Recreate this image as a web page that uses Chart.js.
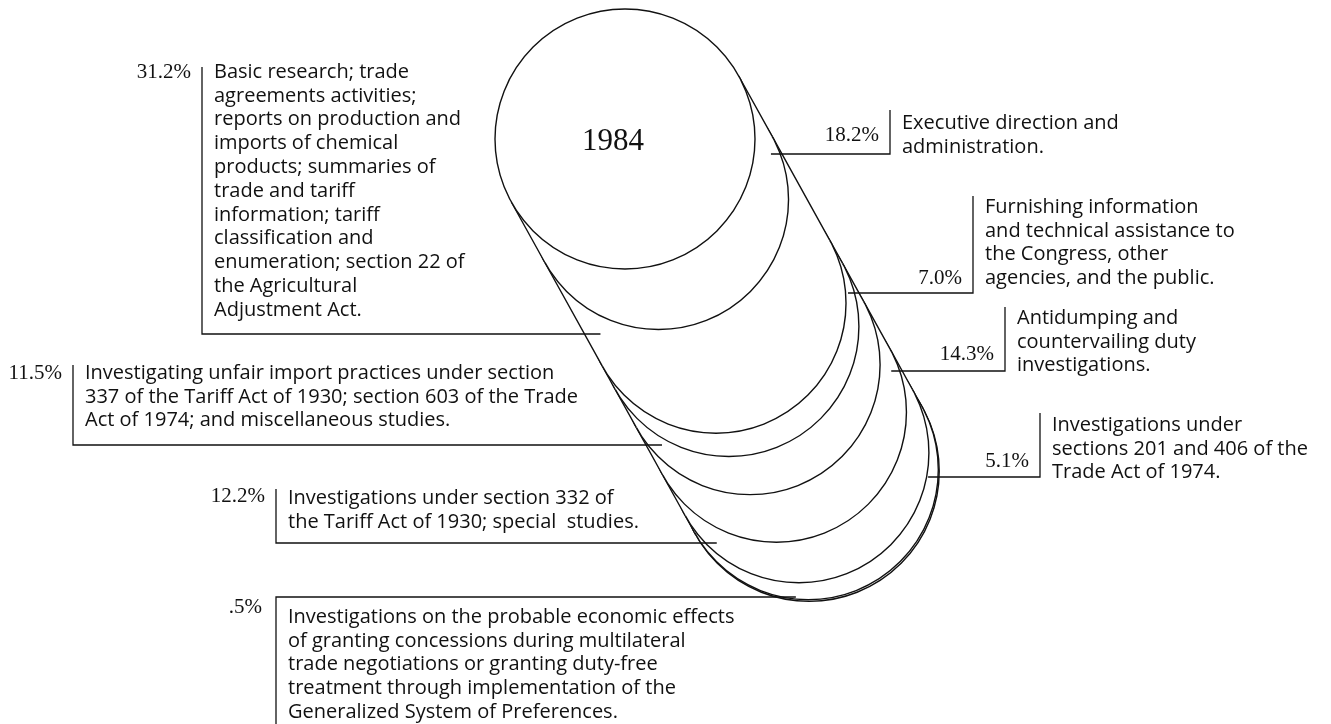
<!DOCTYPE html>
<html>
<head>
<meta charset="utf-8">
<script src="https://cdn.jsdelivr.net/npm/chart.js@4.4.1/dist/chart.umd.min.js"></script>
<style>
  html, body { margin: 0; padding: 0; background: #fff; }
  #wrap { width: 1331px; height: 724px; }
</style>
</head>
<body>
<div id="wrap"><canvas id="stackChart" width="1331" height="724"></canvas></div>
<script>
// --- data (top of the pile first) ---
const yearLabel = '1984';
const shares = [18.2, 31.2, 7.0, 11.5, 14.3, 12.2, 5.1, 0.5];
const shareLabels = ['18.2%', '31.2%', '7.0%', '11.5%', '14.3%', '12.2%', '5.1%', '.5%'];
const descriptions = [
  ['Executive direction and', 'administration.'],
  ['Basic research; trade', 'agreements activities;', 'reports on production and', 'imports of chemical',
   'products; summaries of', 'trade and tariff', 'information; tariff', 'classification and',
   'enumeration; section 22 of', 'the Agricultural', 'Adjustment Act.'],
  ['Furnishing information', 'and technical assistance to', 'the Congress, other', 'agencies, and the public.'],
  ['Investigating unfair import practices under section', '337 of the Tariff Act of 1930; section 603 of the Trade',
   'Act of 1974; and miscellaneous studies.'],
  ['Antidumping and', 'countervailing duty', 'investigations.'],
  ['Investigations under section 332 of', 'the Tariff Act of 1930; special  studies.'],
  ['Investigations under', 'sections 201 and 406 of the', 'Trade Act of 1974.'],
  ['Investigations on the probable economic effects', 'of granting concessions during multilateral',
   'trade negotiations or granting duty-free', 'treatment through implementation of the',
   'Generalized System of Preferences.']
];

// --- layout of the pile (pixel space of the hidden axes) ---
const pileTop = { x: 625, y: 139 };
const faceRadius = 130;
const pxPerPercent = 3.8;
const lean = 29 * Math.PI / 180;   // lean of the pile from vertical

// where each callout sits
const callouts = [
  { side: 'right', bracketX: 890,  bracketTop: 110, firstLine: 123, leaderY: 154, pctY: 135 },
  { side: 'left',  bracketX: 202,  bracketTop: 67,  firstLine: 72,  leaderY: 334, pctY: 72 },
  { side: 'right', bracketX: 973,  bracketTop: 196, firstLine: 207, leaderY: 293, pctY: 278 },
  { side: 'left',  bracketX: 73,   bracketTop: 365, firstLine: 373, leaderY: 445, pctY: 373 },
  { side: 'right', bracketX: 1005, bracketTop: 307, firstLine: 318, leaderY: 371, pctY: 354 },
  { side: 'left',  bracketX: 276,  bracketTop: 489, firstLine: 498, leaderY: 543, pctY: 496 },
  { side: 'right', bracketX: 1040, bracketTop: 413, firstLine: 425, leaderY: 477, pctY: 461 },
  { side: 'box',   bracketX: 276,  bracketTop: 597, firstLine: 617, leaderY: 597, pctY: 607 }
];
const lineGap = 23.8;
const ink = '#111';
const textFont = '20px "Open Sans"';
const pctFont = '21px "Liberation Serif"';

// faces of the pile: top face, then the bottom face of every slice
let cum = [0];
shares.forEach(function (s) { cum.push(cum[cum.length - 1] + s); });
const faceDatasets = cum.map(function (c, i) {
  return {
    type: 'bubble',
    data: [{
      x: pileTop.x + c * pxPerPercent * Math.sin(lean),
      y: pileTop.y + c * pxPerPercent * Math.cos(lean),
      r: faceRadius
    }],
    backgroundColor: '#fff',
    borderColor: ink,
    borderWidth: 1.4,
    clip: false,
    faceIndex: i
  };
});

function facePixels(chart) {
  return faceDatasets.map(function (d, i) {
    const el = chart.getDatasetMeta(i).data[0];
    return { x: el.x, y: el.y, r: el.options.radius };
  });
}

function sideNormal(a, b) {
  const dx = b.x - a.x, dy = b.y - a.y;
  const len = Math.hypot(dx, dy) || 1;
  return { x: dy / len, y: -dx / len };   // points to the right of the pile
}

// outer edge of the pile at height y (dir 1 = right edge, -1 = left edge)
function edgeAt(faces, y, dir) {
  let best = null;
  faces.forEach(function (c) {
    const dy = y - c.y;
    if (Math.abs(dy) < c.r) {
      const x = c.x + dir * Math.sqrt(c.r * c.r - dy * dy);
      if (best === null || dir * (x - best) > 0) best = x;
    }
  });
  for (let i = 0; i < faces.length - 1; i++) {
    const a = faces[i], b = faces[i + 1];
    const n = sideNormal(a, b);
    const p = { x: a.x + dir * a.r * n.x, y: a.y + dir * a.r * n.y };
    const q = { x: b.x + dir * b.r * n.x, y: b.y + dir * b.r * n.y };
    if (q.y !== p.y && y >= Math.min(p.y, q.y) && y <= Math.max(p.y, q.y)) {
      const x = p.x + (q.x - p.x) * (y - p.y) / (q.y - p.y);
      if (best === null || dir * (x - best) > 0) best = x;
    }
  }
  return best;
}

// sides of each slice, drawn just before the face above it
const pileSides = {
  id: 'pileSides',
  beforeDatasetDraw(chart, args) {
    const i = args.index;
    if (i >= faceDatasets.length - 1) return;
    const faces = facePixels(chart);
    const a = faces[i], b = faces[i + 1];
    const n = sideNormal(a, b);
    const ctx = chart.ctx;
    const pts = [
      [a.x + a.r * n.x, a.y + a.r * n.y], [b.x + b.r * n.x, b.y + b.r * n.y],
      [b.x - b.r * n.x, b.y - b.r * n.y], [a.x - a.r * n.x, a.y - a.r * n.y]
    ];
    ctx.save();
    ctx.beginPath();
    ctx.moveTo(pts[0][0], pts[0][1]);
    pts.slice(1).forEach(function (p) { ctx.lineTo(p[0], p[1]); });
    ctx.closePath();
    ctx.fillStyle = '#fff';
    ctx.fill();
    ctx.strokeStyle = ink;
    ctx.lineWidth = 1.4;
    ctx.beginPath();
    ctx.moveTo(pts[0][0], pts[0][1]); ctx.lineTo(pts[1][0], pts[1][1]);
    ctx.moveTo(pts[3][0], pts[3][1]); ctx.lineTo(pts[2][0], pts[2][1]);
    ctx.stroke();
    ctx.restore();
  }
};

// callouts: brackets, leaders, percentages and descriptions
const pileCallouts = {
  id: 'pileCallouts',
  afterDatasetsDraw(chart) {
    const ctx = chart.ctx;
    const sx = chart.scales.x, sy = chart.scales.y;
    const faces = facePixels(chart);
    ctx.save();
    ctx.strokeStyle = ink;
    ctx.fillStyle = ink;
    ctx.lineWidth = 1.3;

    callouts.forEach(function (c, i) {
      const bx = sx.getPixelForValue(c.bracketX);
      const top = sy.getPixelForValue(c.bracketTop);
      const ly = sy.getPixelForValue(c.leaderY);
      const toRight = c.side !== 'right';
      const edge = edgeAt(faces, ly, toRight ? -1 : 1);
      const end = toRight ? edge + (c.side === 'box' ? 20 : 16) : edge - 11;

      ctx.beginPath();
      if (c.side === 'box') {
        ctx.moveTo(end, ly);
        ctx.lineTo(bx, ly);
        ctx.lineTo(bx, chart.height);
      } else {
        ctx.moveTo(bx, top);
        ctx.lineTo(bx, ly);
        ctx.lineTo(end, ly);
      }
      ctx.stroke();

      ctx.textBaseline = 'middle';
      ctx.font = pctFont;
      ctx.textAlign = 'right';
      const gap = c.side === 'box' ? 14 : 11;
      ctx.fillText(shareLabels[i], bx - gap, sy.getPixelForValue(c.pctY));

      ctx.font = textFont;
      ctx.textAlign = 'left';
      descriptions[i].forEach(function (line, k) {
        ctx.fillText(line, bx + 12, sy.getPixelForValue(c.firstLine + k * lineGap));
      });
    });

    // year on the top face
    const t = faces[0];
    ctx.font = '31px "Liberation Serif"';
    ctx.textAlign = 'center';
    ctx.textBaseline = 'middle';
    ctx.fillText(yearLabel, t.x - 12, t.y + 3);
    ctx.restore();
  }
};

new Chart(document.getElementById('stackChart').getContext('2d'), {
  type: 'bubble',
  data: { datasets: faceDatasets },
  options: {
    responsive: false,
    animation: false,
    devicePixelRatio: 1,
    events: [],
    layout: { padding: 0, autoPadding: false },
    scales: {
      x: { type: 'linear', min: 0, max: 1331, display: false },
      y: { type: 'linear', min: 0, max: 724, reverse: true, display: false }
    },
    plugins: {
      legend: { display: false },
      tooltip: { enabled: false }
    }
  },
  plugins: [pileSides, pileCallouts]
});
</script>
</body>
</html>
